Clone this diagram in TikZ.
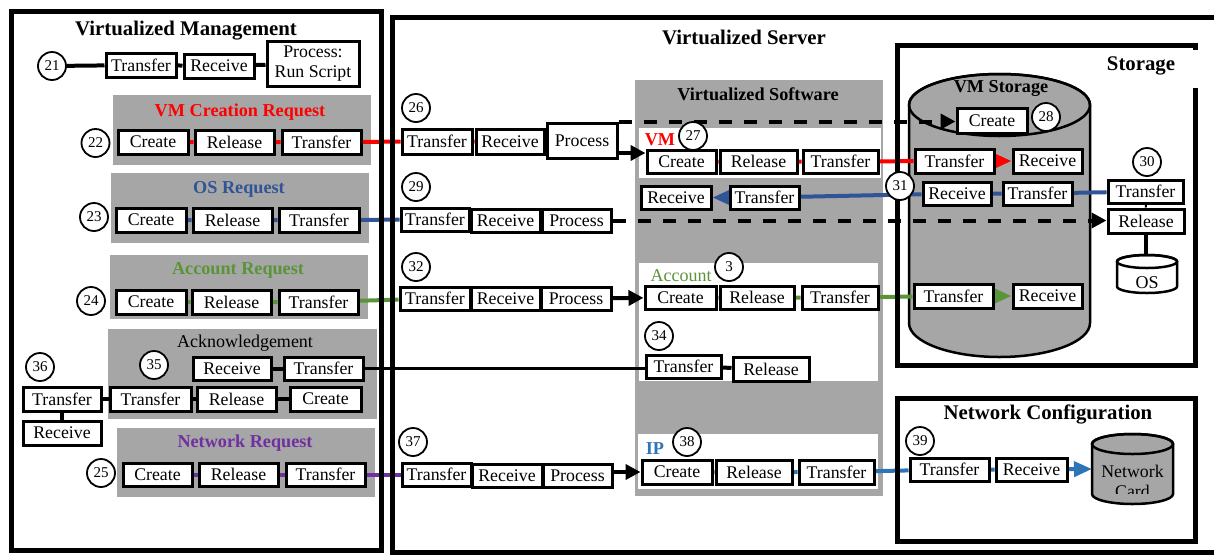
\documentclass[tikz,border=0pt]{standalone}
\usepackage{fontspec}
\setmainfont{Liberation Serif}
\usetikzlibrary{arrows.meta,calc}
\definecolor{pgray}{HTML}{A6A6A6}
\definecolor{osblue}{HTML}{2F5597}
\definecolor{accgreen}{HTML}{5A9438}
\definecolor{netpurple}{HTML}{7030A0}
\definecolor{ipblue}{HTML}{2E75B6}
\definecolor{vmred}{HTML}{FF0000}
\pgfdeclarelayer{bg}\pgfdeclarelayer{lines}\pgfdeclarelayer{frames}
\pgfsetlayers{bg,lines,frames,main}
\begin{document}
\begin{tikzpicture}[x=1pt,y=-1pt,
  bx/.style={draw,line width=3pt,fill=white,inner sep=0pt,minimum height=24pt,font=\fontsize{17.8}{20.5}\selectfont},
  num/.style={circle,draw,line width=1.8pt,fill=white,minimum size=28pt,inner sep=0pt,font=\fontsize{15}{16}\selectfont},
  ttl/.style={inner sep=0pt,font=\fontsize{20.8}{24}\selectfont\bfseries},
  gttl/.style={inner sep=0pt,font=\fontsize{18.2}{21}\selectfont\bfseries},
  lbl/.style={inner sep=0pt,font=\fontsize{18}{21}\selectfont},
  frame/.style={line width=5pt,line join=miter},
  blk/.style={line width=4pt,black},
  redl/.style={line width=4pt,vmred},
  bluel/.style={line width=4pt,osblue},
  greenl/.style={line width=4pt,accgreen},
  purpl/.style={line width=4pt,netpurple},
  ipl/.style={line width=4pt,ipblue},
  dsh/.style={line width=4pt,dash pattern=on 13pt off 12pt},
  tip/.style={-{Triangle[length=15pt,width=15pt]}},
  ctip/.style={-{Triangle[length=18pt,width=15pt]}},
  cyl/.style={line width=2.5pt}
]
\useasboundingbox (0,0) rectangle (1214,555);

% ---------- background panels and cylinders ----------
\begin{pgfonlayer}{bg}
  \fill[pgray] (113,95) rectangle (371,165);
  \fill[pgray] (111,173) rectangle (369,243);
  \fill[pgray] (110,255) rectangle (368,319);
  \fill[pgray] (108,329) rectangle (377,419);
  \fill[pgray] (117,428) rectangle (375,497);
  \fill[pgray] (635,80) rectangle (883,496);
  \fill[white] (639,128) rectangle (881,178);
  \fill[white] (639,263) rectangle (878,381);
  \fill[white] (638,434) rectangle (878,489);
  % VM storage cylinder
  \filldraw[cyl,fill=pgray] (909,105) -- (909,323) arc (180:360:90.5pt and 34pt) -- (1090,105) arc (0:180:90.5pt and 31pt) -- cycle;
  \draw[cyl] (999.5,105) ellipse [x radius=90.5pt, y radius=31pt];
  % OS cylinder
  \filldraw[cyl,fill=white] (1117,261.5) -- (1117,286.5) arc (180:360:30pt and 6.5pt) -- (1177,261.5) arc (0:180:30pt and 6.5pt) -- cycle;
  \draw[cyl] (1147,261.5) ellipse [x radius=30pt, y radius=6.5pt];
  % Network card cylinder
  \filldraw[cyl,fill=pgray] (1092,444) -- (1092,494) arc (180:360:40.5pt and 10pt) -- (1173,444) arc (0:180:40.5pt and 10pt) -- cycle;
  \draw[cyl] (1132.5,444) ellipse [x radius=40.5pt, y radius=10pt];
\end{pgfonlayer}

% ---------- frames ----------
\begin{pgfonlayer}{frames}
  \draw[frame] (11,11) rectangle (381,550);
  \draw[frame] (1225,17) -- (392,17) -- (392,552) -- (1225,552);
  \draw[frame] (1195.5,88) -- (1195.5,365) -- (897,365) -- (897,45) -- (1195.5,45) -- (1195.5,50);
  \draw[frame] (897,398) rectangle (1195.5,541);
\end{pgfonlayer}

\coordinate (osTop) at (1147,255);
\coordinate (ncW) at (1092,469);

% ---------- titles ----------
\node[ttl] (tMan) at (186,31) {Virtualized Management};
\node[ttl] (tSrv) at (744,37) {Virtualized Server};
\node[ttl] (tSto) at (1141,66) {Storage};
\node[ttl] (tNet) at (1048,414) {Network Configuration};
\node[gttl] (tSW) at (758,94) {Virtualized Software};
\node[gttl] (tVMS) at (1001,88) {VM Storage};
\node[gttl,text=vmred] (tVMC) at (240,112) {VM Creation Request};
\node[gttl,text=osblue] (tOSR) at (239,189) {OS Request};
\node[gttl,text=accgreen] (tACR) at (238,270) {Account Request};
\node[lbl] (tACK) at (245,343) {Acknowledgement};
\node[gttl,text=netpurple] (tNR) at (245,443) {Network Request};
\node[gttl,text=vmred] (lVM) at (660,140) {VM};
\node[lbl,text=accgreen] (lAcc) at (681,276) {Account};
\node[gttl,text=ipblue] (lIP) at (655,449) {IP};

% ---------- management ----------
\node[num] (n21) at (52,66) {21};
\node[bx,minimum width=70pt] (t21) at (141,65) {Transfer};
\node[bx,minimum width=70pt] (r21) at (219,66) {Receive};
\node[bx,minimum width=92pt,minimum height=45pt,align=center] (p21) at (313,63.5) {Process:\\Run Script};

\node[num] (n22) at (95.5,143) {22};
\node[bx,minimum width=70pt] (cr22) at (153,142) {Create};
\node[bx,minimum width=79pt] (rl22) at (234.5,142) {Release};
\node[bx,minimum width=79pt] (tr22) at (321.5,142) {Transfer};

\node[num] (n23) at (94,217) {23};
\node[bx,minimum width=70pt] (cr23) at (151,220) {Create};
\node[bx,minimum width=79pt] (rl23) at (232.5,220) {Release};
\node[bx,minimum width=80pt] (tr23) at (319,220) {Transfer};

\node[num] (n24) at (91,301) {24};
\node[bx,minimum width=70pt] (cr24) at (151,302) {Create};
\node[bx,minimum width=79pt] (rl24) at (231.5,302) {Release};
\node[bx,minimum width=79pt] (tr24) at (318.5,302) {Transfer};

\node[num] (n35) at (154,365) {35};
\node[bx,minimum width=78pt,minimum height=23pt] (r35) at (232,368.5) {Receive};
\node[bx,minimum width=79pt,minimum height=23pt] (t35) at (323.5,368.5) {Transfer};
\node[bx,minimum width=81pt] (t35b) at (150.5,399) {Transfer};
\node[bx,minimum width=79pt] (rl35) at (236.5,399) {Release};
\node[bx,minimum width=71pt] (cr35) at (325.5,399) {Create};
\node[num] (n36) at (40,367) {36};
\node[bx,minimum width=78pt] (t36) at (62,399) {Transfer};
\node[bx,minimum width=78pt] (r36) at (62,433) {Receive};

\node[num] (n25) at (101,473) {25};
\node[bx,minimum width=69pt,minimum height=23pt] (cr25) at (157.5,474.5) {Create};
\node[bx,minimum width=79pt,minimum height=23pt] (rl25) at (238.5,474.5) {Release};
\node[bx,minimum width=79pt,minimum height=23pt] (tr25) at (325.5,474.5) {Transfer};

% ---------- server left column ----------
\node[num] (n26) at (416,108) {26};
\node[bx,minimum width=70pt,minimum height=25pt] (t26) at (437,141.5) {Transfer};
\node[bx,minimum width=68pt,minimum height=25pt] (r26) at (510,141.5) {Receive};
\node[bx,minimum width=70pt,minimum height=35pt] (p26) at (582,140.5) {Process};

\node[num] (n29) at (416,187) {29};
\node[bx,minimum width=68pt,minimum height=23pt] (t29) at (435,219.5) {Transfer};
\node[bx,minimum width=69pt,minimum height=23pt] (r29) at (505.5,220.5) {Receive};
\node[bx,minimum width=69pt,minimum height=23pt] (p29) at (576.5,220.5) {Process};

\node[num] (n32) at (416,267) {32};
\node[bx,minimum width=70pt,minimum height=23pt] (t32) at (435,298.5) {Transfer};
\node[bx,minimum width=69pt,minimum height=23pt] (r32) at (505.5,298.5) {Receive};
\node[bx,minimum width=70pt,minimum height=23pt] (p32) at (576,298.5) {Process};

\node[num] (n37) at (413,442) {37};
\node[bx,minimum width=69pt,minimum height=23pt] (t37) at (436.5,474.5) {Transfer};
\node[bx,minimum width=70pt,minimum height=23pt] (r37) at (507,475.5) {Receive};
\node[bx,minimum width=69pt,minimum height=23pt] (p37) at (577.5,475.5) {Process};

% ---------- virtualized software ----------
\node[num] (n27) at (693,136) {27};
\node[bx,minimum width=69pt,minimum height=23pt] (cr27) at (681.5,161.5) {Create};
\node[bx,minimum width=77pt,minimum height=23pt] (rl27) at (758.5,161.5) {Release};
\node[bx,minimum width=75pt,minimum height=23pt] (tr27) at (840.5,161.5) {Transfer};
\node[bx,minimum width=70pt,minimum height=23pt] (rSW) at (676,197.5) {Receive};
\node[bx,minimum width=69pt,minimum height=23pt] (tSWb) at (764.5,197.5) {Transfer};

\node[num] (n33) at (729,267) {3};
\node[bx,minimum width=71pt,minimum height=23pt] (crA) at (680.5,297.5) {Create};
\node[bx,minimum width=74pt,minimum height=23pt] (rlA) at (757,297.5) {Release};
\node[bx,minimum width=76pt,minimum height=23pt] (trA) at (840,297.5) {Transfer};
\node[num] (n34) at (659,336) {34};
\node[bx,minimum width=75pt,minimum height=23pt] (t34) at (683.5,366.5) {Transfer};
\node[bx,minimum width=76pt,minimum height=24pt] (rl34) at (771,369) {Release};

\node[num] (n38) at (687,442) {38};
\node[bx,minimum width=70pt] (crIP) at (677,472) {Create};
\node[bx,minimum width=76pt] (rlIP) at (754,472) {Release};
\node[bx,minimum width=75pt] (trIP) at (836.5,472) {Transfer};

% ---------- storage ----------
\node[bx,minimum width=70pt,minimum height=25pt] (cr28) at (992,120.5) {Create};
\node[num] (n28) at (1046,117) {28};
\node[bx,minimum width=79pt] (tVM) at (954.5,161) {Transfer};
\node[bx,minimum width=69pt] (rVM) at (1047.5,161) {Receive};
\node[num] (n31) at (900,186) {31};
\node[bx,minimum width=68pt,minimum height=23pt] (rOSc) at (957,193.5) {Receive};
\node[bx,minimum width=69pt,minimum height=23pt] (tOSc) at (1037.5,193.5) {Transfer};
\node[num] (n30) at (1147,162) {30};
\node[bx,minimum width=75pt,minimum height=23pt] (tr30) at (1145.5,191.5) {Transfer};
\node[bx,minimum width=76pt] (rl30) at (1146,221) {Release};
\node[lbl] (os) at (1147,283) {OS};
\node[bx,minimum width=79pt] (tAc) at (953.5,296) {Transfer};
\node[bx,minimum width=69pt] (rAc) at (1047.5,296) {Receive};

% ---------- network configuration ----------
\node[num] (n39) at (920,441) {39};
\node[bx,minimum width=79pt,minimum height=23pt] (t39) at (949.5,469.5) {Transfer};
\node[bx,minimum width=71pt,minimum height=23pt] (r39) at (1031.5,469.5) {Receive};
\begin{scope}
  \clip (1085,430) rectangle (1180,493.5);
  \node[lbl,align=center,font=\fontsize{17.8}{20}\selectfont] (ncard) at (1132.5,481) {Network\\Card};
\end{scope}

% ---------- connectors ----------
\begin{pgfonlayer}{lines}
  \draw[blk] (n21) -- (t21) -- (r21) -- (p21);
  \draw[redl] (cr22) -- (rl22) -- (tr22) -- (t26) -- (r26) -- (p26);
  \draw[bluel] (cr23) -- (rl23) -- (tr23) -- (t29);
  \draw[greenl] (cr24) -- (rl24) -- (tr24) -- (t32);
  \draw[purpl] (cr25) -- (rl25) -- (tr25) -- (t37);
  \draw[blk] (r35) -- (t35);
  \draw[blk] (t36) -- (t35b) -- (rl35) -- (cr35);
  \draw[blk] (t36) -- (r36);
  \draw[line width=3pt] (t35) -- (t35.east -| t34.west);
  \draw[blk] (t34) -- (rl34);
  % VM
  \draw[blk,tip] ([yshift=-12.5pt]p26.east) -- ([yshift=8.5pt]cr27.west);
  \draw[redl] (cr27) -- (rl27) -- (tr27) -- (tVM);
  \draw[redl,ctip] (tVM) -- (rVM);
  \draw[dsh,tip] (p26.north east) -- (p26.north east -| cr28.west);
  % OS
  \draw[bluel] (tr30) -- (tOSc) -- (rOSc) -- (tSWb);
  \draw[bluel,ctip] (tSWb) -- (rSW);
  \draw[dsh,tip] (p29.east) -- (p29.east -| rl30.west);
  \draw[line width=2pt] (tr30) -- (rl30);
  \draw[blk] (rl30.south) -- (rl30.south |- osTop);
  % Account
  \draw[blk,tip] (p32) -- (crA);
  \draw[greenl] (crA) -- (rlA) -- (trA) -- (tAc);
  \draw[greenl,ctip] (tAc) -- (rAc);
  % IP
  \draw[blk,tip] (crIP.west -| p37.east) -- (crIP.west);
  \draw[ipl] (crIP) -- (rlIP) -- (trIP) -- (t39) -- (r39);
  \draw[ipl,ctip] (r39) -- (ncW);
\end{pgfonlayer}
\end{tikzpicture}
\end{document}
